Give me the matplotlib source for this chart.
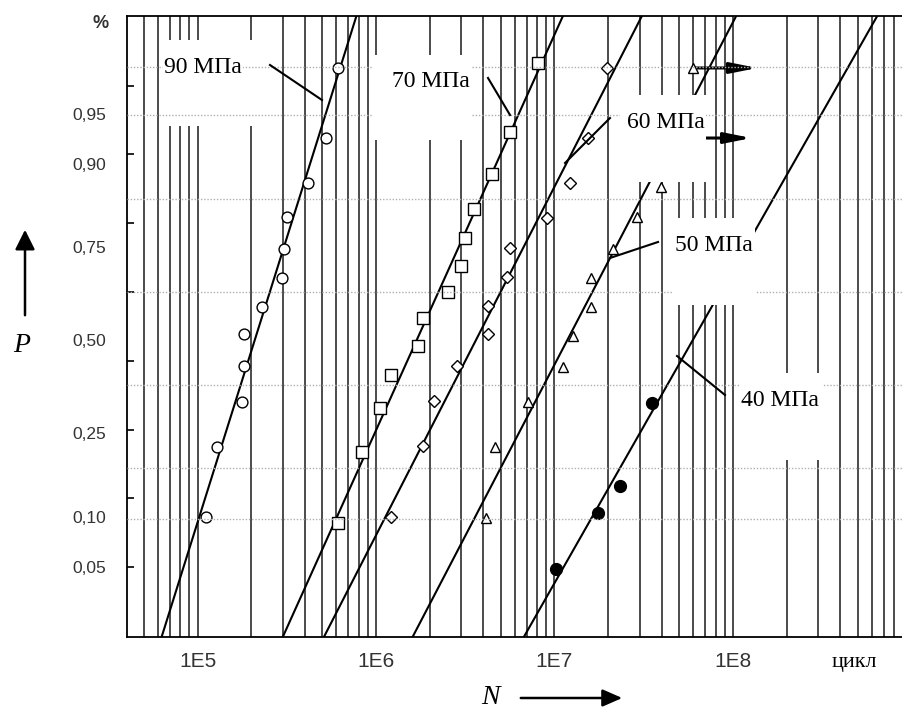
from statistics import NormalDist

import matplotlib

matplotlib.use("Agg")
import matplotlib.pyplot as plt
import numpy as np
from matplotlib.patches import FancyArrowPatch, Rectangle
from matplotlib.ticker import FixedLocator, NullFormatter

# --- data: failure probability P and cycles to failure N per stress level ---
stress = [90, 70, 60, 50, 40]

p_90 = [0.976, 0.929, 0.873, 0.815, 0.746, 0.674, 0.595, 0.518, 0.426, 0.327, 0.219, 0.099]
n_90 = [6.10e5, 5.22e5, 4.14e5, 3.16e5, 3.04e5, 2.96e5, 2.29e5, 1.83e5, 1.81e5, 1.77e5, 1.29e5, 1.12e5]

p_70 = [0.978, 0.935, 0.886, 0.830, 0.771, 0.705, 0.637, 0.564, 0.483, 0.400, 0.311, 0.208, 0.092]
n_70 = [8.07e6, 5.62e6, 4.46e6, 3.53e6, 3.14e6, 2.99e6, 2.52e6, 1.83e6, 1.71e6, 1.21e6, 1.05e6, 8.3e5, 6.1e5]

p_60 = [0.976, 0.929, 0.873, 0.813, 0.748, 0.676, 0.597, 0.518, 0.426, 0.329, 0.221, 0.099]
n_60 = [1.97e7, 1.54e7, 1.22e7, 9.07e6, 5.62e6, 5.41e6, 4.23e6, 4.23e6, 2.84e6, 2.11e6, 1.83e6, 1.21e6]

p_50 = [0.976, 0.929, 0.867, 0.815, 0.746, 0.674, 0.595, 0.512, 0.422, 0.327, 0.219, 0.098]
n_50 = [5.97e7, 5.53e7, 3.95e7, 2.90e7, 2.13e7, 1.60e7, 1.60e7, 1.27e7, 1.11e7, 7.09e6, 4.63e6, 4.12e6]
runout_50 = [True, True, False, False, False, False, False, False, False, False, False, False]

p_40 = [0.324, 0.145, 0.105, 0.048]
n_40 = [3.52e7, 2.33e7, 1.75e7, 1.02e7]

# fitted log-normal lines: median life and std of log10(N)
median_life = [2.09e5, 1.69e6, 3.63e6, 1.18e7, 5.96e7]
log_sd = [0.242, 0.348, 0.395, 0.402, 0.439]

p_ticks = [0.05, 0.10, 0.25, 0.50, 0.75, 0.90, 0.95]
p_tick_labels = ["0,05", "0,10", "0,25", "0,50", "0,75", "0,90", "0,95"]
n_ticks = [1e5, 1e6, 1e7, 1e8]
n_tick_labels = ["1E5", "1E6", "1E7", "1E8"]

# --- probability paper ---
_norm = NormalDist()
_ppf = np.vectorize(_norm.inv_cdf, otypes=[float])
_cdf = np.vectorize(_norm.cdf, otypes=[float])


def prob_to_z(p):
    p = np.clip(np.asarray(p, dtype=float), 1e-12, 1 - 1e-12)
    return _ppf(p)


def z_to_prob(z):
    return _cdf(np.asarray(z, dtype=float))


fig = plt.figure(figsize=(9.02, 7.08), dpi=100)
ax = fig.add_axes([127 / 902, 71 / 708, 775 / 902, 621 / 708])
ax.set_xscale("log")
ax.set_yscale("function", functions=(prob_to_z, z_to_prob))
ax.set_xlim(4.02e4, 8.87e8)
ax.set_ylim(float(z_to_prob(-2.157)), float(z_to_prob(2.355)))

# vertical grid at every log sub-division
minor_x = [m * 10.0**e for e in range(4, 9) for m in range(1, 10)]
ax.xaxis.set_major_locator(FixedLocator(n_ticks))
ax.xaxis.set_minor_locator(FixedLocator(minor_x))
ax.xaxis.set_minor_formatter(NullFormatter())
ax.set_xticklabels(n_tick_labels)
ax.grid(True, which="both", axis="x", color="#1a1a1a", lw=1.1)
ax.set_axisbelow(True)
ax.tick_params(axis="x", which="both", length=0, pad=11, labelsize=15,
               labelcolor="#333333")

ax.yaxis.set_major_locator(FixedLocator(p_ticks))
ax.set_yticklabels(p_tick_labels)
ax.yaxis.set_minor_locator(FixedLocator(z_to_prob(np.arange(-1.65, 1.9, 0.5))))
ax.yaxis.set_minor_formatter(NullFormatter())
ax.tick_params(axis="y", which="major", length=0, pad=15, labelsize=12.5,
               labelcolor="#333333")
ax.tick_params(axis="y", which="minor", direction="in", length=5, width=1.2)
for lab in ax.get_xticklabels() + ax.get_yticklabels():
    lab.set_family("Liberation Sans")

for side in ["left", "top", "bottom"]:
    ax.spines[side].set_linewidth(1.3)
ax.spines["right"].set_visible(False)

# dotted horizontal grid
for p in [0.9764, 0.9490, 0.8474, 0.6367, 0.3722, 0.1763, 0.0969]:
    ax.axhline(p, color="#b0b0b0", lw=1.0, ls=(0, (1, 1.3)), zorder=4.5)

# fitted lines
z_line = np.array([-3.0, 3.0])
for med, sd in zip(median_life, log_sd):
    ax.plot(med * 10 ** (sd * z_line), z_to_prob(z_line), color="black", lw=1.5, zorder=2)

mk = dict(linestyle="none", markeredgecolor="black", markeredgewidth=1.0, zorder=3.5)
ax.plot(n_90, p_90, marker="o", ms=7.8, markerfacecolor="white", **mk)
ax.plot(n_70, p_70, marker="s", ms=8.8, markerfacecolor="white", **mk)
ax.plot(n_60, p_60, marker="D", ms=6.3, markerfacecolor="white", **mk)
ax.plot(n_50, p_50, marker="^", ms=7.8, markerfacecolor="white", **mk)
ax.plot(n_40, p_40, marker="o", ms=8.5, markerfacecolor="black", **mk)

# run-outs
for n, p, r in zip(n_50, p_50, runout_50):
    if r:
        ax.annotate("", xy=(n * 2.3, p), xytext=(n, p), zorder=3,
                    arrowprops=dict(arrowstyle="-|>,head_length=1.0,head_width=0.2",
                                    mutation_scale=16, lw=2.2, color="black",
                                    shrinkA=0, shrinkB=0))

# stress labels: (text, box [x0, y0, x1, y1], text centre, leader line), axes fraction
labels = [
    ("90 МПа", (0.0465, 0.8229, 0.1613, 0.9614), (0.0981, 0.9163),
     ((0.1845, 0.9211), (0.2516, 0.8647)), 4),
    ("70 МПа", (0.3161, 0.8003, 0.4452, 0.9372), (0.3923, 0.8953),
     ((0.4658, 0.9002), (0.4942, 0.8406)), 5),
    ("60 МПа", (0.6361, 0.7327, 0.7471, 0.8728), (0.6955, 0.8293),
     ((0.5652, 0.7633), (0.6232, 0.8357)), 5),
    ("50 МПа", (0.7045, 0.5346, 0.8103, 0.6747), (0.7574, 0.6312),
     ((0.6232, 0.6103), (0.6852, 0.6361)), 5),
    ("40 МПа", (0.7910, 0.2850, 0.8981, 0.4251), (0.8426, 0.3816),
     ((0.7097, 0.4525), (0.7716, 0.3897)), 5),
]
for text, (x0, y0, x1, y1), (tx, ty), (a, b), zb in labels:
    ax.add_patch(Rectangle((x0, y0), x1 - x0, y1 - y0, transform=ax.transAxes,
                           facecolor="white", edgecolor="none", zorder=zb))
    ax.text(tx, ty, text, transform=ax.transAxes, ha="center", va="center",
            family="Liberation Serif", fontsize=17, zorder=6,
            bbox=dict(facecolor="white", edgecolor="none", pad=0.5))
    ax.plot([a[0], b[0]], [a[1], b[1]], transform=ax.transAxes, color="black",
            lw=1.5, zorder=6)

# axis captions
fig.text(101 / 902, 1 - 24 / 708, "%", ha="center", va="center",
         family="Liberation Sans", fontsize=13, fontweight="bold", color="#333333")
fig.text(22 / 902, 1 - 345 / 708, "P", ha="center", va="center",
         family="Liberation Serif", style="italic", fontsize=20)
fig.text(490 / 902, 1 - 697 / 708, "N", ha="center", va="center",
         family="Liberation Serif", style="italic", fontsize=20)
fig.text(854 / 902, 1 - 662 / 708, "цикл", ha="center", va="center",
         family="Liberation Serif", fontsize=16)

fig.add_artist(FancyArrowPatch((25 / 902, 1 - 318 / 708), (25 / 902, 1 - 227 / 708),
                               transform=fig.transFigure, color="black", lw=1.8,
                               arrowstyle="-|>,head_length=0.8,head_width=0.4",
                               mutation_scale=15))
fig.add_artist(FancyArrowPatch((518 / 902, 1 - 698 / 708), (625 / 902, 1 - 698 / 708),
                               transform=fig.transFigure, color="black", lw=1.8,
                               arrowstyle="-|>,head_length=0.8,head_width=0.35",
                               mutation_scale=15))

fig.savefig("out.png", dpi=100)
